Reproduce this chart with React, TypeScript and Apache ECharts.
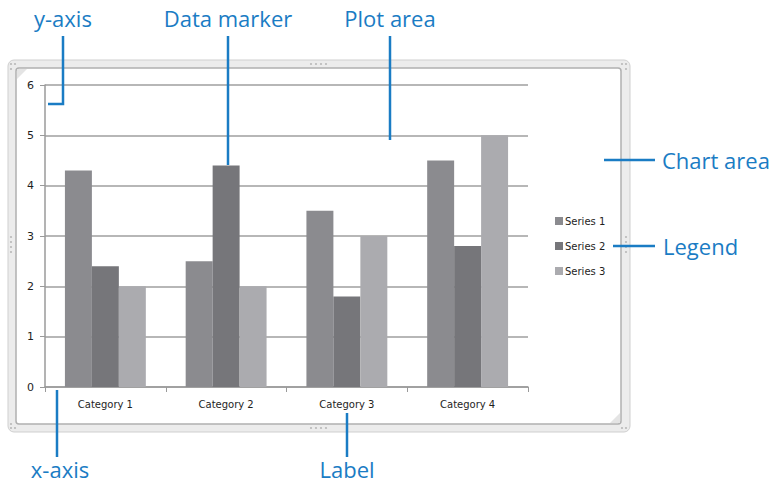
import React, { useEffect, useRef } from "react";
import * as echarts from "echarts";

const categories = ["Category 1", "Category 2", "Category 3", "Category 4"];
const series1 = [4.3, 2.5, 3.5, 4.5];
const series2 = [2.4, 4.4, 1.8, 2.8];
const series3 = [2.0, 2.0, 3.0, 5.0];
const seriesNames = ["Series 1", "Series 2", "Series 3"];
const seriesColors = ["#8b8b8f", "#76767a", "#ababaf"];

const BLUE = "#1a7cc4";
const CALLOUT_FONT = "'Open Sans', 'Noto Sans', sans-serif";

function callout(points: number[][]) {
  return {
    type: "polyline",
    shape: { points },
    style: { stroke: BLUE, lineWidth: 2.5, fill: null },
    z: 100,
  };
}

function calloutText(text: string, x: number, y: number, align: string) {
  return {
    type: "text",
    x,
    y,
    style: {
      text,
      fill: BLUE,
      font: `22px ${CALLOUT_FONT}`,
      align,
      verticalAlign: "middle",
    },
    z: 100,
  };
}

function dots(x0: number, y0: number, dx: number, dy: number, n: number) {
  const out: any[] = [];
  for (let i = 0; i < n; i++) {
    out.push({
      type: "circle",
      shape: { cx: x0 + dx * i, cy: y0 + dy * i, r: 1.1 },
      style: { fill: "#bdbdbd" },
      z: 5,
    });
  }
  return out;
}

export default function App() {
  const ref = useRef<HTMLDivElement>(null);

  useEffect(() => {
    if (!ref.current) return;
    const chart = echarts.init(ref.current, null, { renderer: "svg" });
    const barSeries = [series1, series2, series3].map((data, i) => ({
      name: seriesNames[i],
      type: "bar",
      data,
      barGap: "0%",
      barCategoryGap: "33%",
      itemStyle: { color: seriesColors[i] },
      z: 3,
    }));

    chart.setOption({
      animation: false,
      backgroundColor: "#ffffff",
      grid: { left: 45, right: 245, top: 85, bottom: 96, containLabel: false },
      xAxis: {
        type: "category",
        data: categories,
        axisLine: { lineStyle: { color: "#9a9a9a", width: 1.5 } },
        axisTick: { show: true, alignWithLabel: false, length: 5, lineStyle: { color: "#9a9a9a" } },
        axisLabel: {
          color: "#1e1e1e",
          fontFamily: "'DejaVu Sans', sans-serif",
          fontSize: 10,
          fontWeight: 500,
          margin: 12,
        },
      },
      yAxis: {
        type: "value",
        min: 0,
        max: 6,
        interval: 1,
        axisLine: { show: true, lineStyle: { color: "#9a9a9a", width: 1.5 } },
        axisTick: { show: true, length: 5, lineStyle: { color: "#9a9a9a" } },
        axisLabel: {
          color: "#1e1e1e",
          fontFamily: "'DejaVu Sans', sans-serif",
          fontSize: 11,
          margin: 11,
        },
        splitLine: { lineStyle: { color: "#9f9f9f", width: 1.5 } },
      },
      legend: {
        orient: "vertical",
        left: 550,
        top: 211,
        itemWidth: 8,
        itemHeight: 8,
        itemGap: 15,
        icon: "rect",
        data: seriesNames,
        textStyle: {
          color: "#1e1e1e",
          fontFamily: "'DejaVu Sans', sans-serif",
          fontSize: 10,
          padding: [0, 0, 0, -3],
        },
      },
      series: barSeries,
      graphic: [
        // chart frame
        {
          type: "rect",
          shape: { x: 8, y: 60, width: 622, height: 372, r: 6 },
          style: { fill: "#ececec", stroke: "#cfcfcf", lineWidth: 1 },
          z: -10,
        },
        {
          type: "rect",
          shape: { x: 16, y: 68, width: 605, height: 356, r: 3 },
          style: { fill: "#ffffff", stroke: "#b0b0b0", lineWidth: 1.5 },
          z: -9,
        },
        {
          type: "polygon",
          shape: { points: [[17, 69], [27, 69], [17, 79]] },
          style: { fill: "#e4e4e4" },
          z: -8,
        },
        {
          type: "polygon",
          shape: { points: [[620, 423], [610, 423], [620, 413]] },
          style: { fill: "#e4e4e4" },
          z: -8,
        },
        ...dots(311, 64, 5, 0, 4),
        ...dots(311, 428, 5, 0, 4),
        ...dots(11, 237, 0, 5, 4),
        ...dots(626, 237, 0, 5, 4),
        ...dots(11, 64, 4, 0, 2),
        ...dots(11, 69, 0, 0, 1),
        ...dots(622, 64, 4, 0, 2),
        ...dots(626, 69, 0, 0, 1),
        ...dots(11, 428, 4, 0, 2),
        ...dots(11, 424, 0, 0, 1),
        ...dots(622, 428, 4, 0, 2),
        // callouts
        callout([[63, 36], [63, 104], [48, 104]]),
        calloutText("y-axis", 34, 18, "left"),
        callout([[228, 36], [228, 165]]),
        calloutText("Data marker", 228, 18, "center"),
        callout([[390, 36], [390, 140]]),
        calloutText("Plot area", 390, 18, "center"),
        callout([[604, 160], [655, 160]]),
        calloutText("Chart area", 662, 160, "left"),
        callout([[613, 246], [655, 246]]),
        calloutText("Legend", 663, 246, "left"),
        callout([[57, 390], [57, 457]]),
        calloutText("x-axis", 60, 469, "center"),
        callout([[347, 413], [347, 457]]),
        calloutText("Label", 347, 469, "center"),
      ],
    });
    return () => chart.dispose();
  }, []);

  return (
    <div
      ref={ref}
      style={{ position: "fixed", left: 0, top: 0, width: 773, height: 483 }}
    />
  );
}
